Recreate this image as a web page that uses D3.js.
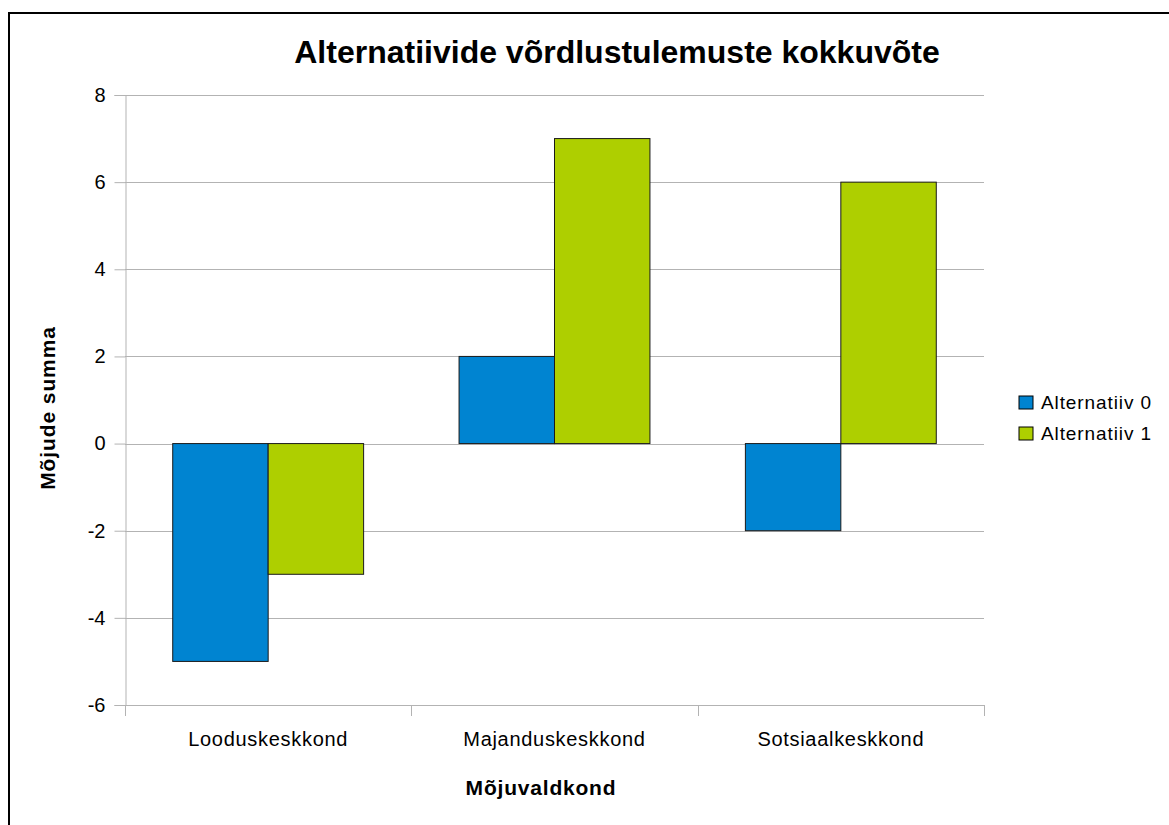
<!DOCTYPE html>
<html>
<head>
<meta charset="utf-8">
<script src="https://cdn.jsdelivr.net/npm/d3@7"></script>
<style>
  body { margin: 0; background: #fff; }
  text { font-family: "Liberation Sans", Arial, sans-serif; }
</style>
</head>
<body>
<svg id="chart" width="1169" height="825"></svg>
<script>
// chart data
const categories = ["Looduskeskkond", "Majanduskeskkond", "Sotsiaalkeskkond"]
const seriesNames = ["Alternatiiv 0", "Alternatiiv 1"]
const alt0 = [-5, 2, -2]
const alt1 = [-3, 7, 6]
const yTicks = [-6, -4, -2, 0, 2, 4, 6, 8]
const colors = ["#0084d1", "#aecf00"]

const svg = d3.select("#chart")
const W = 1169, H = 825
const plot = { left: 125, right: 984, top: 95, bottom: 705 }

svg.append("rect").attr("width", W).attr("height", H).attr("fill", "#fff")

// frame round the whole chart (runs off right/bottom)
svg.append("rect")
  .attr("x", 9).attr("y", 13)
  .attr("width", 1300).attr("height", 900)
  .attr("fill", "none").attr("stroke", "#000").attr("stroke-width", 2)

const x = d3.scaleBand().domain(categories).range([plot.left, plot.right])
const xs = d3.scaleBand().domain(seriesNames).range([0, x.bandwidth()]).paddingOuter(0.5).paddingInner(0)
const y = d3.scaleLinear().domain([-6, 8]).range([plot.bottom, plot.top])

// gridlines
svg.append("g")
  .selectAll("line")
  .data(yTicks)
  .join("line")
  .attr("x1", plot.left).attr("x2", plot.right)
  .attr("y1", d => Math.round(y(d)) + 0.5).attr("y2", d => Math.round(y(d)) + 0.5)
  .attr("stroke", "#b3b3b3").attr("stroke-width", 1)

// y axis
const yAxis = svg.append("g")
  .attr("transform", `translate(${plot.left + 0.5},0)`)
  .call(d3.axisLeft(y).tickValues(yTicks).tickSize(11).tickPadding(9).tickFormat(d => String(d)))
yAxis.select(".domain").attr("stroke", "#b3b3b3")
yAxis.selectAll(".tick line").attr("stroke", "#b3b3b3")
yAxis.selectAll(".tick text").attr("font-size", 20).attr("fill", "#000")
  .attr("font-family", "'Liberation Sans', Arial, sans-serif")

// x axis with ticks at category boundaries
const bounds = categories.map(c => x(c)).concat([plot.right])
const xAxisG = svg.append("g")
xAxisG.append("line")
  .attr("x1", plot.left).attr("x2", plot.right)
  .attr("y1", plot.bottom + 0.5).attr("y2", plot.bottom + 0.5)
  .attr("stroke", "#b3b3b3")
xAxisG.selectAll("line.tk")
  .data(bounds)
  .join("line")
  .attr("class", "tk")
  .attr("x1", d => Math.round(d) + 0.5).attr("x2", d => Math.round(d) + 0.5)
  .attr("y1", plot.bottom).attr("y2", plot.bottom + 11)
  .attr("stroke", "#b3b3b3")
xAxisG.selectAll("text")
  .data(categories)
  .join("text")
  .attr("x", d => x(d) + x.bandwidth() / 2)
  .attr("y", 746)
  .attr("text-anchor", "middle")
  .attr("font-size", 20)
  .attr("letter-spacing", 0.7)
  .text(d => d)

// bars
const rows = categories.map((c, i) => ({ cat: c, values: [alt0[i], alt1[i]] }))
svg.append("g")
  .selectAll("g")
  .data(rows)
  .join("g")
  .attr("transform", d => `translate(${x(d.cat)},0)`)
  .selectAll("rect")
  .data(d => d.values.map((v, j) => ({ name: seriesNames[j], v, j })))
  .join("rect")
  .attr("x", d => xs(d.name))
  .attr("width", xs.bandwidth())
  .attr("y", d => y(Math.max(0, d.v)))
  .attr("height", d => Math.abs(y(d.v) - y(0)))
  .attr("fill", d => colors[d.j])
  .attr("stroke", "#1a1a1a").attr("stroke-width", 1)

// titles
svg.append("text")
  .attr("x", 617).attr("y", 63)
  .attr("text-anchor", "middle")
  .attr("font-size", 32).attr("font-weight", "bold")
  .text("Alternatiivide võrdlustulemuste kokkuvõte")

svg.append("text")
  .attr("x", 541).attr("y", 795)
  .attr("text-anchor", "middle")
  .attr("font-size", 21).attr("font-weight", "bold")
  .attr("letter-spacing", 0.8)
  .text("Mõjuvaldkond")

svg.append("text")
  .attr("transform", "translate(55,408) rotate(-90)")
  .attr("text-anchor", "middle")
  .attr("font-size", 21).attr("font-weight", "bold")
  .attr("letter-spacing", 0.9)
  .text("Mõjude summa")

// legend
const legend = svg.append("g")
  .selectAll("g")
  .data(seriesNames)
  .join("g")
  .attr("transform", (d, i) => `translate(1019,${396 + i * 31})`)
legend.append("rect")
  .attr("width", 14).attr("height", 13)
  .attr("fill", (d, i) => colors[i])
  .attr("stroke", "#000").attr("stroke-width", 1)
legend.append("text")
  .attr("x", 22).attr("y", 13)
  .attr("font-size", 19)
  .attr("letter-spacing", 0.9)
  .text(d => d)
</script>
</body>
</html>
